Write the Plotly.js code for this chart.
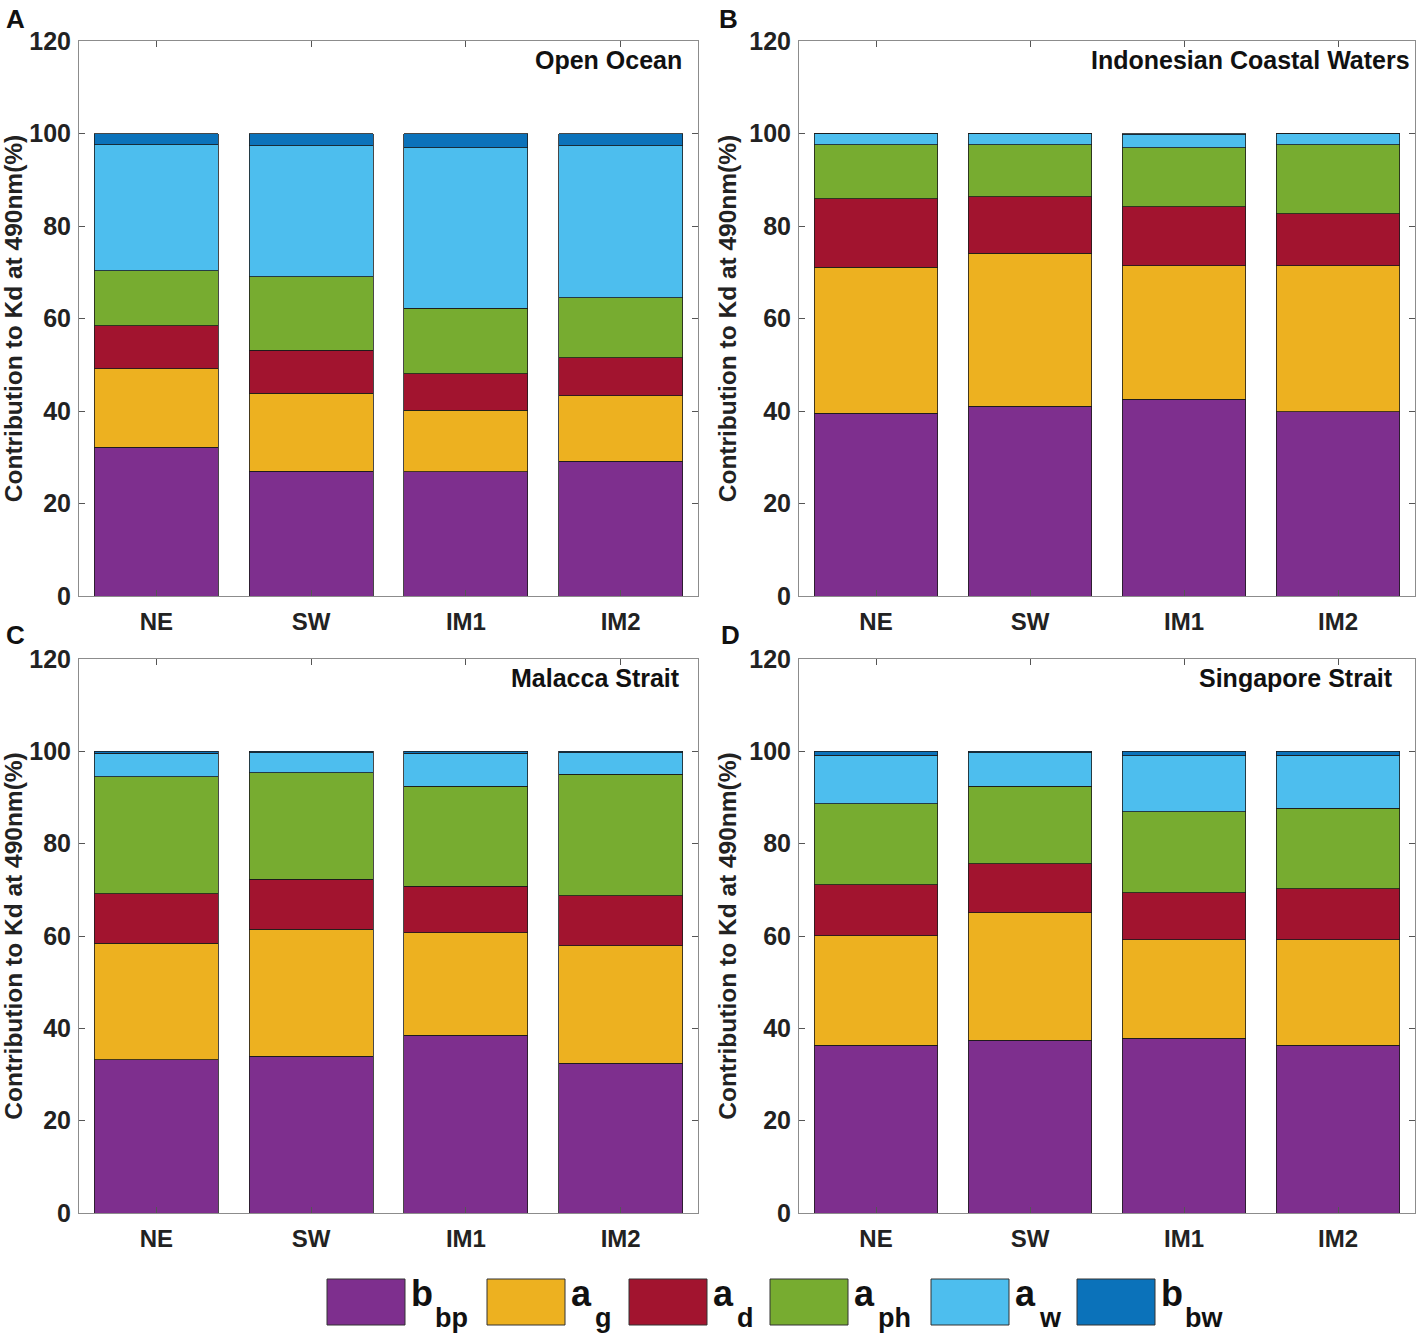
<!DOCTYPE html>
<html>
<head>
<meta charset="utf-8">
<script src="https://cdn.plot.ly/plotly-3.0.1.min.js"></script>
<style>html,body{margin:0;padding:0;background:#fff;}#chart{width:1417px;height:1338px;}</style>
</head>
<body>
<div id="chart"></div>
<script>
// ---- data ----
const categories = ['NE', 'SW', 'IM1', 'IM2'];
const componentMain = ['b', 'a', 'a', 'a', 'a', 'b'];
const componentSub = ['bp', 'g', 'd', 'ph', 'w', 'bw'];
const colors = ['#7E2F8E', '#EDB120', '#A2142F', '#77AC30', '#4DBEEE', '#0B72BA'];
const panelLetters = ['A', 'B', 'C', 'D'];
const panelTitles = ['Open Ocean', 'Indonesian Coastal Waters', 'Malacca Strait', 'Singapore Strait'];
// rows: bbp, ag, ad, aph, aw, bbw ; columns: NE, SW, IM1, IM2
const openOcean = [
  [32.2, 27.0, 26.9, 29.1],
  [16.9, 16.8, 13.3, 14.2],
  [9.3, 9.3, 7.9, 8.2],
  [11.9, 15.9, 14.1, 13.0],
  [27.3, 28.4, 34.7, 32.8],
  [2.4, 2.6, 3.1, 2.7]
];
const indonesianCoastal = [
  [39.5, 41.0, 42.5, 39.8],
  [31.6, 33.1, 28.9, 31.6],
  [14.8, 12.2, 12.8, 11.2],
  [11.7, 11.3, 12.7, 15.0],
  [2.3, 2.3, 2.8, 2.3],
  [0.1, 0.1, 0.3, 0.1]
];
const malaccaStrait = [
  [33.2, 34.0, 38.5, 32.4],
  [25.2, 27.5, 22.2, 25.5],
  [10.7, 10.8, 10.1, 10.8],
  [25.4, 23.1, 21.6, 26.3],
  [5.1, 4.3, 7.2, 4.7],
  [0.4, 0.3, 0.4, 0.3]
];
const singaporeStrait = [
  [36.3, 37.4, 37.9, 36.3],
  [23.8, 27.6, 21.3, 22.9],
  [11.0, 10.7, 10.2, 11.0],
  [17.5, 16.7, 17.5, 17.5],
  [10.6, 7.3, 12.1, 11.5],
  [0.8, 0.3, 1.0, 0.8]
];
const yTicks = [0, 20, 40, 60, 80, 100, 120];
const yTitle = 'Contribution to Kd at 490nm(%)';

// ---- layout helpers ----
const W = 1417, H = 1338;
const px = x => x / W;
const py = y => 1 - y / H;
const panels = [openOcean, indonesianCoastal, malaccaStrait, singaporeStrait];
const xDom = [[px(79), px(698)], [px(799), px(1415)], [px(79), px(698)], [px(799), px(1415)]];
const yDom = [[py(596), py(41)], [py(596), py(41)], [py(1213), py(659)], [py(1213), py(659)]];
const font = 'Liberation Sans, Arial, sans-serif';
const labels = componentMain.map((m, i) => m + '<sub>' + componentSub[i] + '</sub>');

const traces = [];
panels.forEach((data, p) => {
  const sfx = p === 0 ? '' : String(p + 1);
  data.forEach((vals, c) => {
    traces.push({
      type: 'bar',
      x: categories,
      y: vals,
      xaxis: 'x' + sfx,
      yaxis: 'y' + sfx,
      name: labels[c],
      marker: {color: colors[c], line: {color: '#1a1a1a', width: 0.8}},
      showlegend: false,
      hoverinfo: 'x+y+name'
    });
  });
});

const layout = {
  width: W, height: H,
  margin: {l: 0, r: 0, t: 0, b: 0, autoexpand: false},
  paper_bgcolor: '#fff', plot_bgcolor: '#fff',
  barmode: 'stack', bargap: 0.2,
  showlegend: false,
  font: {family: font, color: '#222'},
  annotations: [], shapes: []
};

for (let p = 0; p < 4; p++) {
  const sfx = p === 0 ? '' : String(p + 1);
  layout['xaxis' + sfx] = {
    domain: xDom[p], anchor: 'y' + sfx, type: 'category', range: [-0.5, 3.5],
    showline: true, linecolor: '#8c8c8c', linewidth: 1, mirror: 'ticks',
    ticks: 'inside', ticklen: 6, tickcolor: '#555', showgrid: false, zeroline: false,
    tickfont: {family: font, size: 24, weight: 'bold', color: '#222'},
    ticklabelstandoff: 4, fixedrange: true
  };
  layout['yaxis' + sfx] = {
    domain: yDom[p], anchor: 'x' + sfx, range: [0, 120],
    tickvals: yTicks, ticktext: yTicks.map(String),
    showline: true, linecolor: '#8c8c8c', linewidth: 1, mirror: 'ticks',
    ticks: 'inside', ticklen: 6, tickcolor: '#555', showgrid: false, zeroline: false,
    tickfont: {family: font, size: 25, weight: 'bold', color: '#222'},
    ticklabelstandoff: 2,
    title: {text: yTitle, font: {family: font, size: 24.5, weight: 'bold', color: '#222'}, standoff: 5},
    fixedrange: true
  };
}

// panel letters
const letterPos = [[4, 2], [717, 2], [4, 618], [719, 618]];
letterPos.forEach((pos, i) => {
  layout.annotations.push({
    text: panelLetters[i], xref: 'paper', yref: 'paper', x: px(pos[0]), y: py(pos[1]),
    xanchor: 'left', yanchor: 'top', showarrow: false,
    font: {family: font, size: 26, weight: 'bold', color: '#111'}
  });
});
// panel titles (inside, top-right)
const titlePos = [[684, 60], [1412, 60], [682, 678], [1395, 678]];
titlePos.forEach((pos, i) => {
  layout.annotations.push({
    text: panelTitles[i], xref: 'paper', yref: 'paper', x: px(pos[0]), y: py(pos[1]),
    xanchor: 'right', yanchor: 'middle', showarrow: false,
    font: {family: font, size: 25, weight: 'bold', color: '#111'}
  });
});

// custom legend: swatch + main letter + lowered subscript
const legBoxes = [[327, 405], [487, 565], [629, 707], [770, 848], [931, 1009], [1077, 1155]];
legBoxes.forEach((b, i) => {
  layout.shapes.push({
    type: 'rect', xref: 'paper', yref: 'paper',
    x0: px(b[0]), x1: px(b[1]), y0: py(1325), y1: py(1279),
    fillcolor: colors[i], line: {color: '#333', width: 1}
  });
  layout.annotations.push({
    text: componentMain[i],
    xref: 'paper', yref: 'paper', x: px(b[1] + 4), y: py(1271),
    xanchor: 'left', yanchor: 'top', showarrow: false,
    font: {family: font, size: 36, weight: 'bold', color: '#111'}
  });
  layout.annotations.push({
    text: componentSub[i],
    xref: 'paper', yref: 'paper', x: px(b[1] + 28), y: py(1301),
    xanchor: 'left', yanchor: 'top', showarrow: false,
    font: {family: font, size: 27, weight: 'bold', color: '#111'}
  });
});

Plotly.newPlot('chart', traces, layout, {displayModeBar: false, staticPlot: true});
</script>
</body>
</html>
